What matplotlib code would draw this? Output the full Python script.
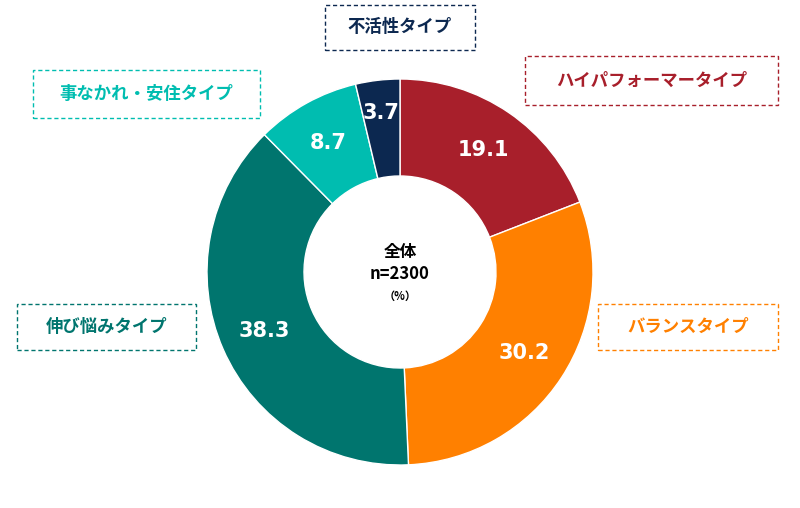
import numpy as np
import matplotlib.pyplot as plt
from matplotlib.patches import Rectangle

plt.rcParams['font.family'] = 'Noto Sans CJK JP'

labels = ['ハイパフォーマータイプ', 'バランスタイプ', '伸び悩みタイプ', '事なかれ・安住タイプ', '不活性タイプ']
values = [19.1, 30.2, 38.3, 8.7, 3.7]
colors = ['#A81F2B', '#FF8000', '#00756E', '#00BDB0', '#0C2850']

# label box positions in pixel coords (x0, y0_top, x1, y1_bottom)
boxes = [(525, 56, 778, 105), (598, 304, 778, 350), (17, 304, 196, 350),
         (33, 70, 260, 118), (325, 5, 475, 50)]

W, H = 800, 508
fig = plt.figure(figsize=(8, 5.08), dpi=100)
ax = fig.add_axes([0, 0, 1, 1])
ax.set_xlim(0, W)
ax.set_ylim(0, H)
ax.set_aspect('equal')
ax.axis('off')

cx, cy, R, width = 400, H - 272, 193, 97
ax.pie(values, colors=colors, startangle=90, counterclock=False,
       radius=R, center=(cx, cy), frame=True,
       wedgeprops=dict(width=width, edgecolor='white', linewidth=1))
ax.set_xlim(0, W)
ax.set_ylim(0, H)
ax.axis('off')

# value labels
start = 90
for v in values:
    mid = start - v / 2 * 3.6
    r = 148 if v > 5 else 160
    ax.text(cx + r * np.cos(np.radians(mid)), cy + r * np.sin(np.radians(mid)),
            f'{v}', ha='center', va='center', color='white',
            fontsize=15, fontweight='bold', fontfamily='DejaVu Sans')
    start -= v * 3.6

ax.text(cx, cy + 20, '全体', ha='center', va='center', fontsize=12, fontweight='bold')
ax.text(cx, cy - 2, 'n=2300', ha='center', va='center', fontsize=12, fontweight='bold')
ax.text(cx, cy - 24, '（%）', ha='center', va='center', fontsize=8, fontweight='bold')

for lab, col, (x0, y0, x1, y1) in zip(labels, colors, boxes):
    ax.add_patch(Rectangle((x0, H - y1), x1 - x0, y1 - y0, fill=False,
                           edgecolor=col, linestyle=(0, (3, 2)), linewidth=1))
    ax.text((x0 + x1) / 2, H - (y0 + y1) / 2, lab, ha='center', va='center',
            color=col, fontsize=12.5, fontweight='bold')

plt.savefig('out.png', dpi=100, facecolor='white')
